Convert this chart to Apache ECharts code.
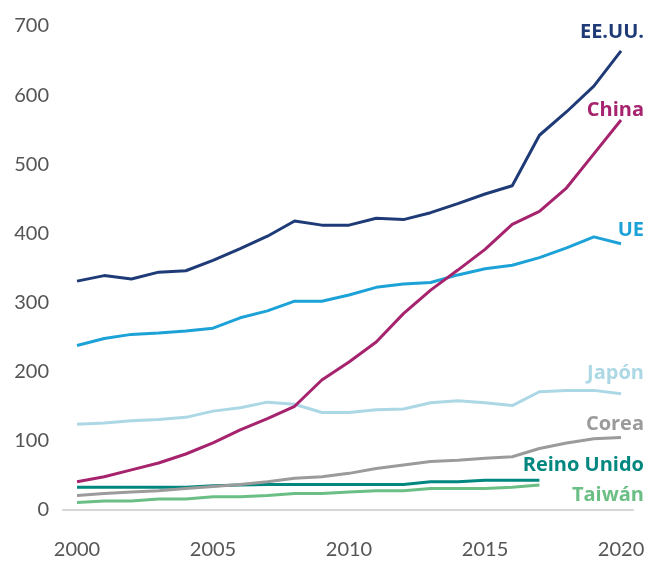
<!DOCTYPE html>
<html>
<head>
<meta charset="utf-8">
<script src="https://cdn.jsdelivr.net/npm/echarts@6/dist/echarts.min.js"></script>
<style>
  html, body { margin: 0; padding: 0; background: #fff; }
  #chart { width: 658px; height: 566px; }
</style>
</head>
<body>
<div id="chart"></div>
<script>
// años
const years = [2000, 2001, 2002, 2003, 2004, 2005, 2006, 2007, 2008, 2009, 2010,
  2011, 2012, 2013, 2014, 2015, 2016, 2017, 2018, 2019, 2020];
const yearTicks = [2000, 2005, 2010, 2015, 2020];

// valores
const eeuu = [331, 339, 334, 344, 346, 361, 378, 396, 418, 412, 412, 422, 420, 430, 443, 457, 469, 542, 576, 613, 664];
const china = [41, 48, 58, 68, 81, 97, 116, 132, 150, 188, 214, 243, 284, 318, 347, 377, 413, 432, 466, 515, 564];
const ue = [238, 248, 254, 256, 259, 263, 278, 288, 302, 302, 311, 322, 327, 329, 340, 349, 354, 365, 379, 395, 385];
const japon = [124, 126, 129, 131, 134, 143, 148, 156, 153, 141, 141, 145, 146, 155, 158, 155, 151, 171, 173, 173, 168];
const corea = [21, 24, 26, 28, 31, 34, 37, 41, 46, 48, 53, 60, 65, 70, 72, 75, 77, 89, 97, 103, 105];
const reinoUnido = [33, 33, 33, 33, 33, 35, 36, 37, 37, 37, 37, 37, 37, 41, 41, 43, 43, 43];
const taiwan = [11, 13, 13, 16, 16, 19, 19, 21, 24, 24, 26, 28, 28, 31, 31, 31, 33, 36];

const seriesDefs = [
  { name: "Taiwán", data: taiwan, color: "#6bbf85", labelY: 495 },
  { name: "Reino Unido", data: reinoUnido, color: "#00877f", labelY: 465 },
  { name: "Corea", data: corea, color: "#9b9b9b", labelY: 424 },
  { name: "Japón", data: japon, color: "#acd8e6", labelY: 373 },
  { name: "UE", data: ue, color: "#1da2d8", labelY: 230 },
  { name: "China", data: china, color: "#a6236d", labelY: 110 },
  { name: "EE.UU.", data: eeuu, color: "#1f3b77", labelY: 32 },
];

const myChart = echarts.init(document.getElementById("chart"));

let _series = seriesDefs.map(function (s) {
  return {
    name: s.name,
    type: "line",
    symbol: "none",
    smooth: false,
    lineStyle: { width: 3, color: s.color },
    itemStyle: { color: s.color },
    data: s.data.map(function (v, i) { return [years[i], v]; }),
  };
});

// etiquetas de serie
let _labels = seriesDefs.map(function (s) {
  return {
    type: "text",
    right: 14,
    top: s.labelY - 10,
    style: {
      text: s.name,
      fill: s.color,
      font: "bold 20px 'Open Sans'",
      textAlign: "right",
    },
  };
});

myChart.setOption({
  animation: false,
  grid: { left: 63, right: 25, top: 26, bottom: 56, containLabel: false },
  xAxis: {
    type: "value",
    min: 1999.485,
    max: 2020.44,
    axisLine: { show: true, lineStyle: { color: "#d6d6d6", width: 2 } },
    axisTick: { show: false },
    splitLine: { show: false },
    axisLabel: {
      customValues: yearTicks,
      color: "#555",
      fontSize: 20,
      fontFamily: "Lato",
      margin: 30,
      formatter: function (v) { return String(v); },
    },
  },
  yAxis: {
    type: "value",
    min: 0,
    max: 700,
    interval: 100,
    axisLine: { show: false },
    axisTick: { show: false },
    splitLine: { show: false },
    axisLabel: { color: "#555", fontSize: 20, fontFamily: "Lato", margin: 14 },
  },
  series: _series,
  graphic: _labels,
});
</script>
</body>
</html>
